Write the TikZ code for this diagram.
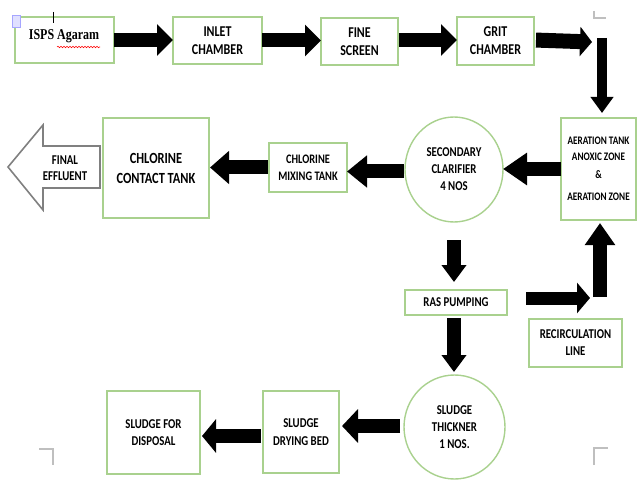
\documentclass[tikz,border=0pt]{standalone}
\usepackage{fontspec}
\setmainfont{Carlito}[FakeStretch=0.8]
\newfontfamily\isfont{Liberation Serif}[FakeStretch=0.8]
\usetikzlibrary{arrows.meta,shapes.geometric,decorations.pathmorphing}
\definecolor{gbord}{HTML}{A9D18E}
\begin{document}
\begin{tikzpicture}[x=1pt,y=-1pt,
  box/.style={draw=gbord,line width=1.4pt,fill=white,inner sep=0pt,outer sep=0pt,align=center,font=\bfseries},
  circ/.style={box,ellipse},
  blk/.style={line width=14pt,-{Triangle[width=31pt,length=16pt]}},
  cornermark/.style={draw=black!25,line width=1.3pt}
]
\useasboundingbox (0,0) rectangle (637,481);
% nodes
\node[box,minimum width=99,minimum height=46,anchor=center] (isps) at (64.5,40) {};
\node[font=\bfseries\isfont\fontsize{15}{18}\selectfont] (ispst) at (64,36) {ISPS Agaram};
\node[box,minimum width=89,minimum height=47,font=\bfseries\fontsize{15}{18}\selectfont] (inlet) at (217.5,40.5) {INLET\\CHAMBER};
\node[box,minimum width=77,minimum height=47,font=\bfseries\fontsize{15}{18}\selectfont] (fine) at (359.5,41.5) {FINE\\SCREEN};
\node[box,minimum width=77,minimum height=48,font=\bfseries\fontsize{15}{18}\selectfont] (grit) at (495.5,41) {GRIT\\CHAMBER};
\node[box,minimum width=75,minimum height=102,font=\bfseries\fontsize{11.5}{16}\selectfont] (aer) at (598.5,169) {AERATION TANK\\ANOXIC ZONE\\[2pt]\&\\[6pt]AERATION ZONE};
\node[circ,minimum width=98,minimum height=105,font=\bfseries\fontsize{13.5}{17}\selectfont] (clar) at (454,169.5) {SECONDARY\\CLARIFIER\\4 NOS};
\node[box,minimum width=78,minimum height=49,font=\bfseries\fontsize{13}{17}\selectfont] (mix) at (308,167.5) {CHLORINE\\MIXING TANK};
\node[box,minimum width=106,minimum height=100,font=\bfseries\fontsize{15.5}{20}\selectfont] (cct) at (156,168) {CHLORINE\\CONTACT TANK};
\node[box,minimum width=102,minimum height=25,font=\bfseries\fontsize{13.5}{17}\selectfont] (ras) at (456,302.5) {RAS PUMPING};
\node[box,minimum width=93,minimum height=48,font=\bfseries\fontsize{13.5}{17}\selectfont] (rec) at (575.5,343) {RECIRCULATION\\LINE};
\node[circ,minimum width=101,minimum height=104,font=\bfseries\fontsize{13.5}{17}\selectfont] (thk) at (454.5,427) {SLUDGE\\THICKNER\\1 NOS.};
\node[box,minimum width=76,minimum height=82,font=\bfseries\fontsize{13.5}{18}\selectfont] (dry) at (301,432) {SLUDGE\\DRYING BED};
\node[box,minimum width=93,minimum height=83,font=\bfseries\fontsize{13.5}{17}\selectfont] (disp) at (153.5,432.5) {SLUDGE FOR\\DISPOSAL};
% final effluent hollow arrow
\draw[draw=black!50,line width=1.6pt,line join=miter,fill=white] (8,167) -- (43,125) -- (43,146) -- (100,146) -- (100,188) -- (43,188) -- (43,210) -- cycle;
\node[font=\bfseries\fontsize{13.5}{16}\selectfont,align=center] (fe) at (65,168) {FINAL\\EFFLUENT};
% free-end coordinates
\coordinate (c1) at (592,42);
\coordinate (c2) at (602,38);
\coordinate (r1) at (526,298);
\coordinate (r2) at (590,298);
\coordinate (u1) at (600,297);
% arrows
\draw[blk] (isps.east) -- (isps.east -| inlet.west);
\draw[blk] (inlet.east) -- (inlet.east -| fine.west);
\draw[blk,shorten <=1pt] ([yshift=1.5pt]fine.east) -- ([yshift=1.5pt]fine.east -| grit.west);
\draw[blk,line width=15pt,-{Triangle[width=29pt,length=12pt]},shorten <=2pt] ([yshift=1pt]grit.east) -- (c1);
\draw[blk,line width=10pt,-{Triangle[width=22pt,length=16pt]},shorten >=5pt] (c2) -- (c2 |- aer.north);
\draw[blk,-{Triangle[width=31pt,length=24pt]}] (aer.west) -- (aer.west -| clar.east);
\draw[blk,-{Triangle[width=31pt,length=20pt]},shorten <=1pt] ([yshift=-2pt]clar.west) -- ([yshift=-2pt]clar.west -| mix.east);
\draw[blk,-{Triangle[width=32pt,length=19pt]},shorten <=1pt,shorten >=1pt] (mix.west) -- (mix.west -| cct.east);
\draw[blk,-{Triangle[width=24pt,length=17pt]},shorten <=18pt,shorten >=8pt] (clar.south) -- (clar.south |- ras.north);
\draw[blk,-{Triangle[width=24pt,length=17pt]},shorten <=3pt,shorten >=3pt] (ras.south -| clar.south) -- (clar.south |- thk.north);
\draw[blk,line width=13pt,-{Triangle[width=30pt,length=13pt]}] (r1) -- (r2);
\draw[blk,-{Triangle[width=29pt,length=22pt]},shorten >=3pt] (u1) -- (u1 |- aer.south);
\draw[blk,-{Triangle[width=33pt,length=16pt]},shorten <=4pt,shorten >=3pt] ([yshift=1pt]thk.west) -- ([yshift=1pt]thk.west -| dry.east);
\draw[blk,-{Triangle[width=33pt,length=14pt]},shorten <=2pt,shorten >=2pt] ([yshift=-4pt]dry.west) -- ([yshift=-4pt]dry.west -| disp.east);
% page corner marks and editor marks
\draw[cornermark] (594,11) -- (594,18) -- (606,18);
\draw[cornermark] (594,465) -- (594,448) -- (608,448);
\draw[cornermark] (39,449) -- (53,449) -- (53,465);
\draw[draw=blue!35,fill=blue!12,line width=0.6pt] (12,15) rectangle (20,27);
\draw[black,line width=0.8pt] (53,12) -- (53,23);
\draw[red,line width=0.6pt,decorate,decoration={snake,amplitude=0.7pt,segment length=3pt}] (57,47) -- (100,47);
\end{tikzpicture}
\end{document}
